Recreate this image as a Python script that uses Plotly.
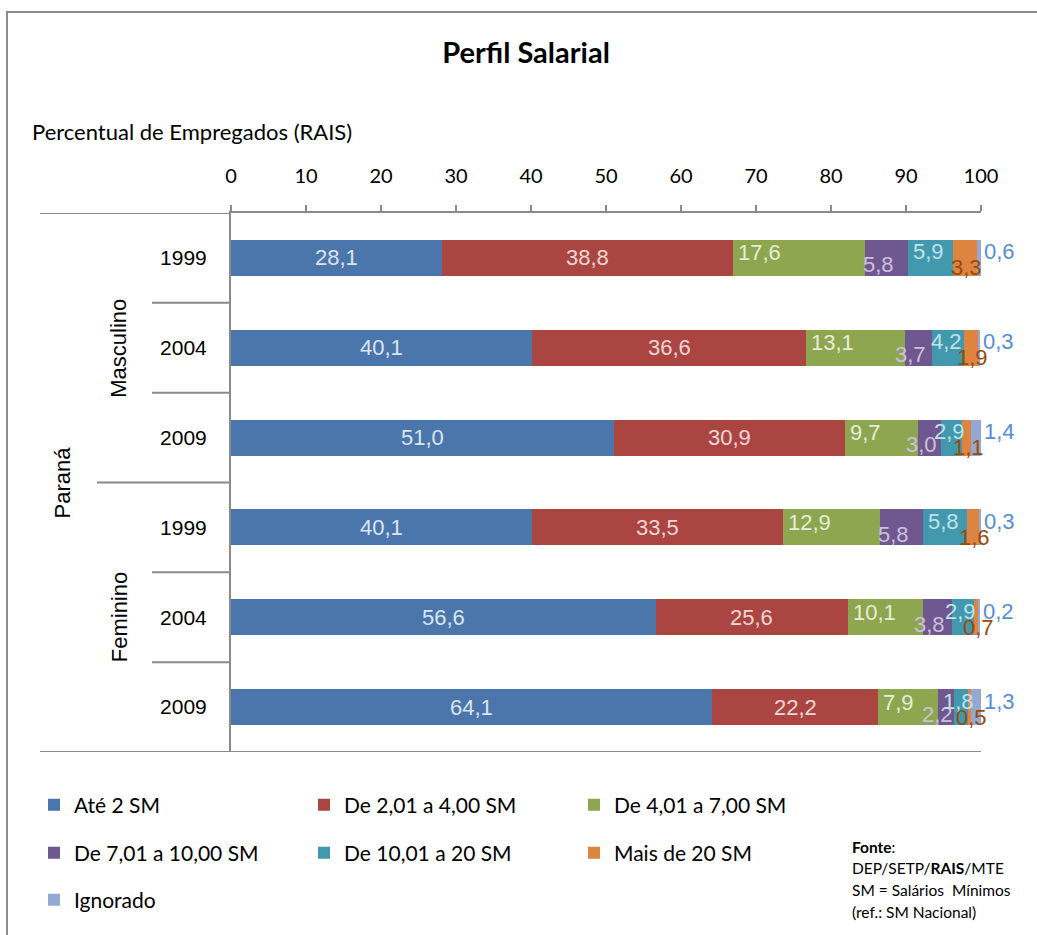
import plotly.graph_objects as go

# Categories (top to bottom) and salary bands
years = ["1999", "2004", "2009", "1999", "2004", "2009"]
faixas = ["Até 2 SM", "De 2,01 a 4,00 SM", "De 4,01 a 7,00 SM",
          "De 7,01 a 10,00 SM", "De 10,01 a 20 SM", "Mais de 20 SM", "Ignorado"]

# Percent of employees per band (Masculino 1999/2004/2009, Feminino 1999/2004/2009)
ate_2 = [28.1, 40.1, 51.0, 40.1, 56.6, 64.1]
de_2_4 = [38.8, 36.6, 30.9, 33.5, 25.6, 22.2]
de_4_7 = [17.6, 13.1, 9.7, 12.9, 10.1, 7.9]
de_7_10 = [5.8, 3.7, 3.0, 5.8, 3.8, 2.2]
de_10_20 = [5.9, 4.2, 2.9, 5.8, 2.9, 1.8]
mais_20 = [3.3, 1.9, 1.1, 1.6, 0.7, 0.5]
ignorado = [0.6, 0.3, 1.4, 0.3, 0.2, 1.3]

x_ticks = list(range(0, 101, 10))

series = [ate_2, de_2_4, de_4_7, de_7_10, de_10_20, mais_20, ignorado]
bar_colors = ["#4a76ab", "#ab4542", "#8ea650", "#6f5790", "#4299ae", "#dd8540", "#93a9d1"]
label_colors = ["#dbe4ef", "#f0d6d5", "#e6edd6", "#cbc0da", "#bfe2ea", "#9a4a0a", "#558ed5"]
# label placement per band: (mode, horizontal shift px, vertical shift px)
label_style = [("center", 0, 0), ("center", 0, 0), ("base", 3, 5), ("center", -8, -7),
               ("center", -2, 6), ("center", 2, -10), ("outside", 1, 6)]
legend_of = ["legend", "legend", "legend", "legend2", "legend2", "legend2", "legend3"]

GRAY = "#8a8a8a"
W, H = 1037, 935
L, R, T, B = 231, 56, 213, 183
PW, PH = W - L - R, H - T - B


def px_x(p):
    return (p - L) / PW


def px_y(p):
    return (H - B - p) / PH


ypos = list(range(len(years)))
fig = go.Figure()
for name, vals, col, leg in zip(faixas, series, bar_colors, legend_of):
    fig.add_trace(go.Bar(
        y=ypos, x=vals, name=name, orientation="h", width=0.4,
        marker=dict(color=col, line=dict(width=0)),
        legend=leg, hoverinfo="x+name",
    ))

# value labels on each segment
annotations = []
for i in ypos:
    start = 0.0
    for vals, lc, (mode, dx, dy) in zip(series, label_colors, label_style):
        v = vals[i]
        txt = f"{v:.1f}".replace(".", ",")
        if mode == "center":
            ax, anchor = start + v / 2, "center"
        elif mode == "base":
            ax, anchor = start, "left"
        else:
            ax, anchor = min(start + v, 100), "left"
        annotations.append(dict(
            x=ax, y=i, xref="x", yref="y", text=txt, showarrow=False,
            xanchor=anchor, yanchor="middle", xshift=dx, yshift=dy,
            font=dict(family="Liberation Sans, Arial", size=22, color=lc),
        ))
        start += v

# group labels
for txt, yy, xp in [("Masculino", 1, 119), ("Feminino", 4, 119), ("Paraná", 2.5, 62)]:
    annotations.append(dict(
        x=px_x(xp), y=yy, xref="paper", yref="y", text=txt, showarrow=False,
        textangle=-90, xanchor="center", yanchor="middle",
        font=dict(family="Liberation Sans", size=22, color="#000"),
    ))

annotations.append(dict(
    x=px_x(30), y=px_y(131), xref="paper", yref="paper",
    text="Percentual de Empregados (RAIS)", showarrow=False,
    xanchor="left", yanchor="middle",
    font=dict(family="Lato", size=22, color="#000"),
))

# source note, one line at a time
note_lines = ["<b>Fonte</b>:", "DEP/SETP/<b>RAIS</b>/MTE",
              "SM = Salários  Mínimos", "(ref.: SM Nacional)"]
for line, yp in zip(note_lines, [847, 868, 890, 912]):
    annotations.append(dict(
        x=px_x(850), y=px_y(yp), xref="paper", yref="paper", text=line,
        showarrow=False, xanchor="left", yanchor="middle", align="left",
        font=dict(family="Lato", size=15.5, color="#000"),
    ))

# category separators and frame
shapes = []
for yy, xp in [(-0.5, 40), (0.5, 152), (1.5, 152), (2.5, 97), (3.5, 152), (4.5, 152)]:
    shapes.append(dict(type="line", xref="paper", yref="y", x0=px_x(xp), x1=0,
                       y0=yy, y1=yy, line=dict(color=GRAY, width=2)))
shapes.append(dict(type="line", xref="paper", yref="y", x0=px_x(40), x1=1,
                   y0=5.5, y1=5.5, line=dict(color=GRAY, width=2)))
shapes.append(dict(type="rect", xref="paper", yref="paper",
                   x0=px_x(7), x1=px_x(1045), y0=px_y(945), y1=px_y(12),
                   line=dict(color="#8c8c8c", width=2), fillcolor="rgba(0,0,0,0)"))

leg_common = dict(orientation="h", xanchor="left", yanchor="middle",
                  entrywidth=225, entrywidthmode="pixels",
                  bgcolor="rgba(0,0,0,0)", traceorder="normal",
                  font=dict(family="Lato", size=21, color="#000"))

fig.update_layout(
    width=W, height=H,
    margin=dict(l=L, r=R, t=T, b=B),
    paper_bgcolor="white", plot_bgcolor="white",
    barmode="stack", bargap=0,
    title=dict(text="<b>Perfil Salarial</b>", x=526 / W, y=1 - 53 / H,
               xanchor="center", yanchor="middle", xref="container", yref="container",
               font=dict(family="Lato", size=29, color="#000")),
    xaxis=dict(range=[0, 100], side="top", tickvals=x_ticks,
               ticks="outside", ticklen=6, tickwidth=2, tickcolor=GRAY,
               showline=True, linecolor=GRAY, linewidth=2,
               showgrid=False, zeroline=False, ticklabelstandoff=14,
               tickfont=dict(family="Lato", size=20, color="#000"), fixedrange=True),
    yaxis=dict(range=[5.5, -0.5], tickvals=ypos, ticktext=years,
               ticks="", showline=True, linecolor=GRAY, linewidth=2,
               showgrid=False, zeroline=False, ticklabelstandoff=18,
               tickfont=dict(family="Liberation Sans", size=21, color="#000"), fixedrange=True),
    legend=dict(x=px_x(34), y=px_y(805), **leg_common),
    legend2=dict(x=px_x(34), y=px_y(853), **leg_common),
    legend3=dict(x=px_x(34), y=px_y(900), **leg_common),
    annotations=annotations,
    shapes=shapes,
    showlegend=True,
)

fig.write_html("out.html")
